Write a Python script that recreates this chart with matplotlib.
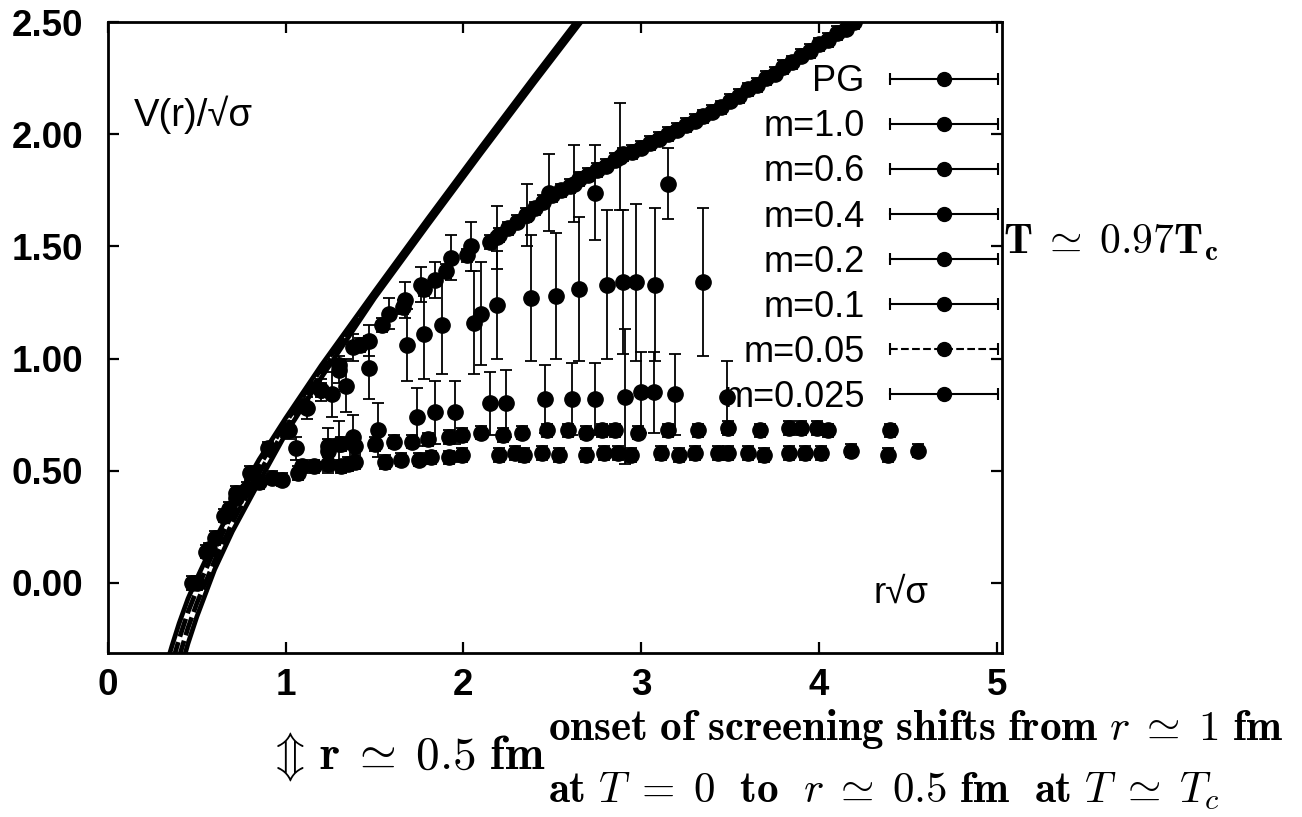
import matplotlib

matplotlib.use("Agg")
import matplotlib.pyplot as plt
from matplotlib.lines import Line2D
from matplotlib.legend_handler import HandlerLine2D

plt.rcParams["mathtext.fontset"] = "cm"
SANS = ["Liberation Sans", "DejaVu Sans"]

# ── T=0 reference curves (solid outer, dashed inner) ──
curve_x = [0.33, 0.36, 0.40, 0.45, 0.50, 0.60, 0.70, 0.85, 1.00, 1.20, 1.50, 1.80, 2.10, 2.40, 2.70]
curve_a = [-0.36, -0.28, -0.18, -0.07, 0.02, 0.19, 0.34, 0.55, 0.735, 0.97, 1.30, 1.625, 1.945, 2.26, 2.57]
curve_b = [-0.45, -0.36, -0.25, -0.13, -0.03, 0.15, 0.31, 0.52, 0.715, 0.955, 1.29, 1.615, 1.935, 2.25, 2.56]
curve_c = [-0.55, -0.45, -0.33, -0.20, -0.09, 0.10, 0.27, 0.49, 0.69, 0.935, 1.28, 1.605, 1.925, 2.24, 2.55]
curve_d = [-0.65, -0.54, -0.41, -0.27, -0.15, 0.06, 0.23, 0.45, 0.665, 0.915, 1.27, 1.595, 1.915, 2.23, 2.54]

# ── pure gauge (PG): sparse at small r, dense band beyond r*sqrt(sigma) ~ 2.1 ──
pg_x = [0.50, 0.57, 0.65, 0.72, 0.80, 0.90, 1.00, 1.10, 1.20, 1.30, 1.42, 1.54, 1.66, 1.78, 1.90, 2.02,
        2.15, 2.20, 2.25, 2.30, 2.35, 2.40, 2.45, 2.50, 2.55, 2.60, 2.65, 2.70, 2.75, 2.80, 2.85, 2.90,
        2.95, 3.00, 3.05, 3.10, 3.15, 3.20, 3.25, 3.30, 3.35, 3.40, 3.45, 3.50, 3.55, 3.60, 3.65, 3.70,
        3.75, 3.80, 3.85, 3.90, 3.95, 4.00, 4.05, 4.10, 4.15, 4.20]
pg_y = [0.00, 0.15, 0.30, 0.40, 0.49, 0.60, 0.68, 0.79, 0.86, 0.97, 1.06, 1.15, 1.23, 1.31, 1.39, 1.46,
        1.52, 1.55, 1.58, 1.61, 1.64, 1.67, 1.70, 1.73, 1.75, 1.77, 1.80, 1.82, 1.84, 1.86, 1.885, 1.91,
        1.92, 1.94, 1.96, 1.98, 2.00, 2.02, 2.04, 2.06, 2.08, 2.10, 2.12, 2.15, 2.17, 2.20, 2.22, 2.25,
        2.27, 2.30, 2.32, 2.35, 2.37, 2.40, 2.42, 2.45, 2.47, 2.50]
pg_err = 0.03

m10_x = [1.02, 1.12, 1.20, 1.30, 1.38, 1.47, 1.58, 1.67, 1.76, 1.84, 1.93, 2.04, 2.19, 2.36, 2.48, 2.62, 2.74, 2.88, 3.15]
m10_y = [0.68, 0.78, 0.86, 0.95, 1.05, 1.08, 1.20, 1.26, 1.33, 1.35, 1.45, 1.50, 1.54, 1.64, 1.74, 1.78, 1.74, 1.90, 1.78]
m10_e = [0.04, 0.05, 0.05, 0.06, 0.06, 0.07, 0.07, 0.08, 0.08, 0.08, 0.10, 0.11, 0.14, 0.14, 0.17, 0.17, 0.21, 0.24, 0.16]

m06_x = [1.26, 1.34, 1.47, 1.68, 1.78, 1.88, 2.06, 2.10, 2.19, 2.38, 2.52, 2.65, 2.81, 2.90, 2.97, 3.08, 3.35]
m06_y = [0.84, 0.88, 0.96, 1.06, 1.11, 1.15, 1.16, 1.20, 1.24, 1.27, 1.28, 1.31, 1.33, 1.34, 1.34, 1.33, 1.34]
m06_e = [0.10, 0.12, 0.14, 0.16, 0.20, 0.22, 0.23, 0.23, 0.24, 0.28, 0.28, 0.32, 0.33, 0.32, 0.35, 0.34, 0.33]

m04_x = [1.06, 1.24, 1.30, 1.38, 1.52, 1.74, 1.84, 1.95, 2.15, 2.24, 2.46, 2.61, 2.74, 2.91, 3.00, 3.07, 3.19, 3.48]
m04_y = [0.60, 0.59, 0.62, 0.65, 0.68, 0.74, 0.76, 0.76, 0.80, 0.80, 0.82, 0.82, 0.82, 0.83, 0.85, 0.85, 0.84, 0.83]
m04_e = [0.05, 0.10, 0.10, 0.10, 0.12, 0.13, 0.14, 0.14, 0.14, 0.15, 0.15, 0.16, 0.16, 0.30, 0.18, 0.18, 0.18, 0.16]

m02_x = [1.24, 1.39, 1.61, 1.80, 1.99, 2.22, 2.47, 2.69, 2.85, 3.15, 3.49, 3.83, 3.99, 4.40]
m02_y = [0.61, 0.61, 0.63, 0.64, 0.66, 0.66, 0.68, 0.67, 0.68, 0.68, 0.69, 0.69, 0.69, 0.68]
m01_x = [1.31, 1.50, 1.71, 1.92, 2.10, 2.33, 2.59, 2.78, 2.98, 3.32, 3.67, 3.90, 4.05]
m01_y = [0.62, 0.62, 0.63, 0.65, 0.67, 0.67, 0.68, 0.68, 0.67, 0.68, 0.68, 0.69, 0.68]

m005_x = [0.47, 0.60, 0.72, 0.85, 0.98, 1.09, 1.24, 1.35, 1.56, 1.75, 1.92, 2.20, 2.34, 2.54, 2.79, 2.94,
          3.21, 3.43, 3.60, 3.83, 4.01, 4.39]
m005_y = [0.00, 0.20, 0.38, 0.45, 0.46, 0.52, 0.53, 0.53, 0.54, 0.55, 0.56, 0.57, 0.57, 0.57, 0.58, 0.57,
          0.57, 0.58, 0.58, 0.58, 0.58, 0.57]
m0025_x = [0.55, 0.68, 0.78, 0.92, 1.07, 1.16, 1.31, 1.39, 1.65, 1.82, 1.99, 2.29, 2.44, 2.69, 2.87, 3.11,
           3.30, 3.49, 3.69, 3.92, 4.18, 4.56]
m0025_y = [0.14, 0.33, 0.42, 0.47, 0.49, 0.52, 0.52, 0.54, 0.55, 0.56, 0.57, 0.58, 0.58, 0.57, 0.58, 0.58,
           0.58, 0.58, 0.57, 0.58, 0.59, 0.59]
low_err = 0.03

labels = ["PG", "m=1.0", "m=0.6", "m=0.4", "m=0.2", "m=0.1", "m=0.05", "m=0.025"]
x_ticks = [0, 1, 2, 3, 4, 5]
y_ticks = [0.0, 0.5, 1.0, 1.5, 2.0, 2.5]

fig = plt.figure(figsize=(13.02, 8.17), dpi=100)
ax = fig.add_axes([108 / 1302, 164 / 817, 894 / 1302, 631 / 817])

for cy, ls in ((curve_a, "-"), (curve_b, "--"), (curve_c, "--"), (curve_d, "-")):
    ax.plot(curve_x, cy, color="black", lw=3.4, ls=ls, dashes=(4, 1.2) if ls == "--" else (None, None),
            zorder=3)

eb = dict(fmt="o", color="black", ms=11, capsize=4, elinewidth=1.3, capthick=1.3, zorder=4)
ax.errorbar(pg_x, pg_y, yerr=pg_err, **eb)
ax.errorbar(m10_x, m10_y, yerr=m10_e, **eb)
ax.errorbar(m06_x, m06_y, yerr=m06_e, **eb)
ax.errorbar(m04_x, m04_y, yerr=m04_e, **eb)
ax.errorbar(m02_x, m02_y, yerr=low_err, **eb)
ax.errorbar(m01_x, m01_y, yerr=low_err, **eb)
ax.errorbar(m005_x, m005_y, yerr=low_err, **eb)
ax.errorbar(m0025_x, m0025_y, yerr=low_err, **eb)

ax.set_xlim(0, 5.03)
ax.set_ylim(-0.312, 2.5)
ax.set_xticks(x_ticks)
ax.set_xticklabels([str(t) for t in x_ticks])
ax.set_yticks(y_ticks)
ax.set_yticklabels([f"{t:.2f}" for t in y_ticks])
ax.tick_params(direction="in", length=8, width=1.6, top=True, right=True, labeltop=False, labelright=False)
ax.tick_params(axis="y", pad=18)
ax.tick_params(axis="x", pad=11)
for lab in ax.get_xticklabels() + ax.get_yticklabels():
    lab.set_fontfamily(SANS)
    lab.set_fontweight("bold")
    lab.set_fontsize(26.5)
for sp in ax.spines.values():
    sp.set_linewidth(2.0)

ax.text(0.029, 0.853, "V(r)/\u221a\u03c3", transform=ax.transAxes, family=SANS, fontsize=27.5,
        ha="left", va="center")
ax.text(0.856, 0.095, "r\u221a\u03c3", transform=ax.transAxes, family=SANS, fontsize=26.5,
        ha="left", va="center")

# gnuplot-style key: label, then a horizontal bar with end caps and a dot
handles, hmap = [], {}
for lab in labels:
    ls = "--" if lab == "m=0.05" else "-"
    cap = Line2D([], [], color="black", marker="|", ms=9, mew=1.5, lw=1.5, ls=ls)
    dot = Line2D([], [], color="black", marker="o", ms=10, lw=0)
    hmap[cap] = HandlerLine2D(numpoints=2)
    hmap[dot] = HandlerLine2D(numpoints=1)
    handles.append((cap, dot))
ax.legend(handles, labels, handler_map=hmap, loc="upper right", bbox_to_anchor=(1.008, 0.933),
          frameon=False, markerfirst=False, handlelength=3.6, handletextpad=0.4, labelspacing=0.28,
          borderpad=0, borderaxespad=0, prop={"family": SANS, "size": 26})

fig.text(1003 / 1302, 1 - 242 / 817, r"$\mathbf{T}\;\simeq\;\mathbf{0.97T_c}$", fontsize=30,
         ha="left", va="center")
fig.text(267 / 1302, 1 - 757 / 817, r"$\Updownarrow\,\mathbf{r}\;\simeq\;\mathbf{0.5\ fm}$", fontsize=34,
         ha="left", va="center")
fig.text(548 / 1302, 1 - 729 / 817,
         r"$\mathbf{onset\ of\ screening\ shifts\ from}\ r\;\simeq\;\mathbf{1\ fm}$",
         fontsize=31, ha="left", va="center")
fig.text(548 / 1302, 1 - 791 / 817,
         r"$\mathbf{at}\ T\;=\;\mathbf{0\ \ to}\ \ r\;\simeq\;\mathbf{0.5\ fm\ \ at}\ T\;\simeq\;T_c$",
         fontsize=31, ha="left", va="center")

fig.savefig("out.png", dpi=100)
